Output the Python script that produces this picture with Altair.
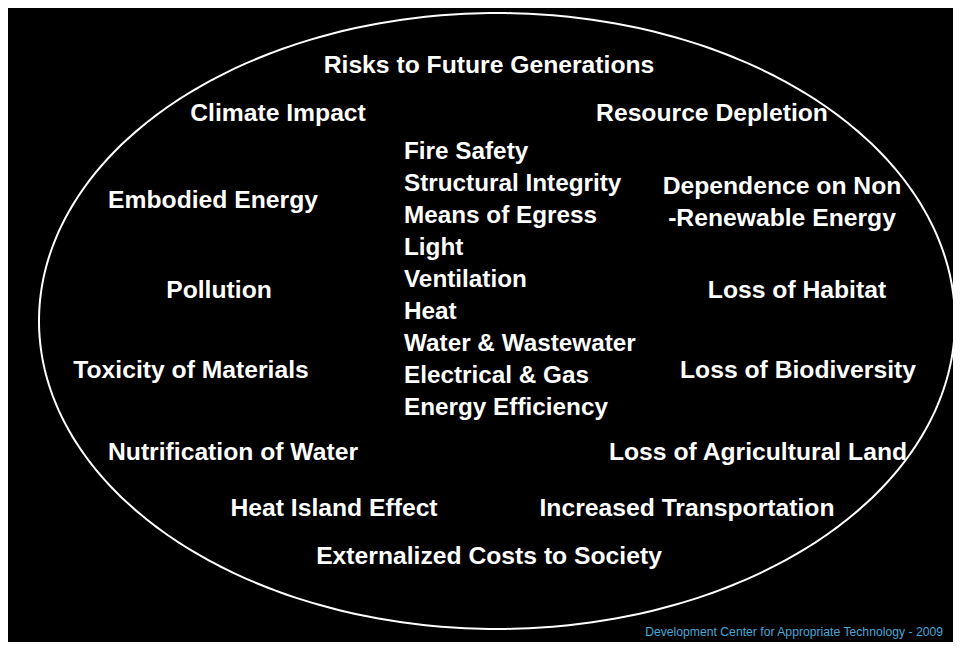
import altair as alt
import pandas as pd
import numpy as np

# ---- content ----
outer_labels = [
    "Risks to Future Generations",
    "Climate Impact", "Resource Depletion",
    "Embodied Energy", "Dependence on Non", "-Renewable Energy",
    "Pollution", "Loss of Habitat",
    "Toxicity of Materials", "Loss of Biodiversity",
    "Nutrification of Water", "Loss of Agricultural Land",
    "Heat Island Effect", "Increased Transportation",
    "Externalized Costs to Society",
]
core_labels = [
    "Fire Safety", "Structural Integrity", "Means of Egress", "Light",
    "Ventilation", "Heat", "Water & Wastewater", "Electrical & Gas",
    "Energy Efficiency",
]
footer_text = ["Development Center for Appropriate Technology - 2009"]

# ---- layout (page pixel coordinates; text anchor = baseline) ----
outer_x = [489, 278, 712, 213, 782, 782, 219, 797, 191, 798, 233, 758, 334, 687, 489]
outer_y = [73, 121, 121, 208, 194, 226, 298, 298, 378, 378, 460, 460, 516, 516, 564]
core_x = [404] * 9
core_y = [159, 191, 223, 255, 287, 319, 351, 383, 415]
footer_x = [943]
footer_y = [636]

# ellipse geometry (page pixels)
ell_cx, ell_cy, ell_rx, ell_ry = 497, 321, 458, 308

OX, OY = 8, 8  # page margin offset
W, H = 945, 634

xs = alt.Scale(domain=[0, W], nice=False, zero=False)
ys = alt.Scale(domain=[0, H], nice=False, zero=False, reverse=True)

t = np.linspace(0, 2 * np.pi, 361)
ell = pd.DataFrame({
    "x": ell_cx - OX + ell_rx * np.cos(t),
    "y": ell_cy - OY + ell_ry * np.sin(t),
    "o": np.arange(len(t)),
})

outer = pd.DataFrame({"label": outer_labels,
                      "x": [v - OX for v in outer_x],
                      "y": [v - OY for v in outer_y]})
core = pd.DataFrame({"label": core_labels,
                     "x": [v - OX for v in core_x],
                     "y": [v - OY for v in core_y]})
foot = pd.DataFrame({"label": footer_text,
                     "x": [v - OX for v in footer_x],
                     "y": [v - OY for v in footer_y]})

X = lambda: alt.X("x:Q", scale=xs, axis=None)
Y = lambda: alt.Y("y:Q", scale=ys, axis=None)

ellipse = alt.Chart(ell).mark_line(color="white", strokeWidth=2).encode(
    x=X(), y=Y(), order="o:Q")

outer_text = alt.Chart(outer).mark_text(
    font="Liberation Sans", fontWeight="bold", fontSize=24.7, color="white",
    align="center", baseline="alphabetic").encode(x=X(), y=Y(), text="label:N")

core_text = alt.Chart(core).mark_text(
    font="Liberation Sans", fontWeight="bold", fontSize=24.3, color="white",
    align="left", baseline="alphabetic").encode(x=X(), y=Y(), text="label:N")

foot_text = alt.Chart(foot).mark_text(
    font="Liberation Sans", fontSize=12.2, color="#45a8d9",
    align="right", baseline="alphabetic").encode(x=X(), y=Y(), text="label:N")

chart = alt.layer(ellipse, outer_text, core_text, foot_text).properties(
    width=W, height=H, background="black", padding=0,
    autosize=alt.AutoSizeParams(type="none"),
).configure_view(stroke=None)

chart.save("out.html", embed_options={"renderer": "svg", "actions": False})
